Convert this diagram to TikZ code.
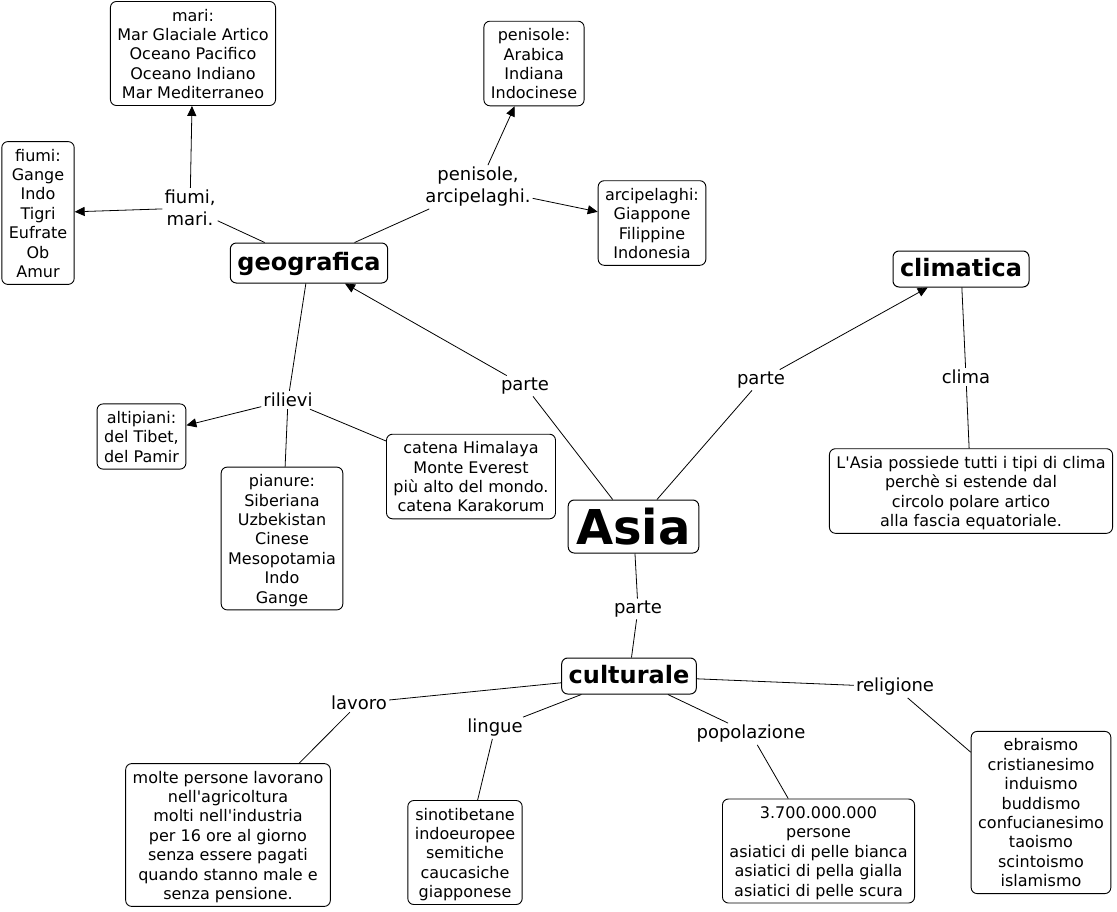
\documentclass[tikz,border=0pt]{standalone}
\usepackage{fontspec}
\setmainfont{DejaVu Sans}[Ligatures=TeXOff]
\usetikzlibrary{arrows.meta}
\newcommand\lines[1]{{\setbox\strutbox\hbox{\vrule height 16pt depth 3.4pt width 0pt}%
  \renewcommand\arraystretch{1}\begin{tabular}{@{}c@{}}#1\end{tabular}}}
\begin{document}
\begin{tikzpicture}[x=1pt,y=-1pt,
 box/.style={draw, rounded corners=6pt, line width=0.9pt, inner xsep=7pt, inner ysep=3.5pt,
   font=\fontsize{16}{19.4}\selectfont},
 title/.style={draw, rounded corners=6pt, line width=1pt, inner xsep=7pt, inner ysep=6pt,
   font=\fontsize{24}{29}\selectfont\bfseries, text height=19pt, text depth=5pt},
 bigtitle/.style={title, font=\fontsize{48}{56}\selectfont\bfseries, text height=40pt, text depth=4pt,
   inner ysep=4.5pt, inner xsep=8pt},
 lbl/.style={align=center, inner sep=2pt, font=\fontsize{18}{22}\selectfont},
 con/.style={draw, line width=0.8pt},
 arr/.style={con, -{Triangle[length=10pt,width=9pt]}},
]
\useasboundingbox (0,0) rectangle (1117,911);

% main concepts
\node[bigtitle] (asia) at (633.5,526.5) {Asia};
\node[title, minimum height=40pt] (geo) at (309,263) {geografica};
\node[title] (clim) at (961,269) {climatica};
\node[title] (cult) at (629,676) {culturale};

% boxes
\node[box] (mari) at (193,53.5) {\lines{mari:\\Mar Glaciale Artico\\Oceano Pacifico\\Oceano Indiano\\Mar Mediterraneo}};
\node[box] (fiumi) at (38,213) {\lines{fiumi:\\Gange\\Indo\\Tigri\\Eufrate\\Ob\\Amur}};
\node[box] (pen) at (534,63.5) {\lines{penisole:\\Arabica\\Indiana\\Indocinese}};
\node[box] (arc) at (652,223) {\lines{arcipelaghi:\\Giappone\\Filippine\\Indonesia}};
\node[box] (alt) at (141.5,436.5) {\lines{altipiani:\\del Tibet,\\del Pamir}};
\node[box] (pian) at (282,538.5) {\lines{pianure:\\Siberiana\\Uzbekistan\\Cinese\\Mesopotamia\\Indo\\Gange}};
\node[box] (cat) at (471,476.5) {\lines{catena Himalaya\\Monte Everest\\più alto del mondo.\\catena Karakorum}};
\node[box] (clm) at (971,491) {\lines{L'Asia possiede tutti i tipi di clima\\perchè si estende dal\\circolo polare artico\\alla fascia equatoriale.}};
\node[box] (lav) at (228,835) {\lines{molte persone lavorano\\nell'agricoltura\\molti nell'industria\\per 16 ore al giorno\\senza essere pagati\\quando stanno male e\\senza pensione.}};
\node[box] (ling) at (465,852.5) {\lines{sinotibetane\\indoeuropee\\semitiche\\caucasiche\\giapponese}};
\node[box] (pop) at (818.5,851) {\lines{3.700.000.000\\persone\\asiatici di pelle bianca\\asiatici di pella gialla\\asiatici di pelle scura}};
\node[box] (rel) at (1041,812.5) {\lines{ebraismo\\cristianesimo\\induismo\\buddismo\\confucianesimo\\taoismo\\scintoismo\\islamismo}};

% link labels
\node[lbl] (lfm) at (190,208) {fiumi,\\mari.};
\node[lbl] (lpa) at (478,187) {penisole,\\arcipelaghi.};
\node[lbl] (lp1) at (525,386) {parte};
\node[lbl] (lp2) at (761,380) {parte};
\node[lbl] (lcl) at (966,377) {clima};
\node[lbl] (lri) at (288,400) {rilievi};
\node[lbl] (lp3) at (638,609) {parte};
\node[lbl] (llav) at (359,703) {lavoro};
\node[lbl] (lling) at (495,728) {lingue};
\node[lbl] (lpop) at (751,734) {popolazione};
\node[lbl] (lrel) at (895,687) {religione};

% connectors
\draw[con] (asia) -- (lp1); \draw[arr] (lp1) -- (geo);
\draw[con] (asia) -- (lp2); \draw[arr] (lp2) -- (clim);
\draw[con] (asia) -- (lp3); \draw[con] (lp3) -- (cult);
\draw[con] (clim) -- (lcl); \draw[con] (lcl) -- (clm);
\draw[con] (geo) -- (lfm); \draw[arr] (lfm) -- (mari); \draw[arr] (lfm) -- (fiumi);
\draw[con] (geo) -- (lpa); \draw[arr] (lpa) -- (pen); \draw[arr] (lpa) -- (arc);
\draw[con] (geo) -- (lri); \draw[arr] (lri) -- (alt); \draw[con] (lri) -- (pian); \draw[con] (lri) -- (cat);
\draw[con] (cult) -- (llav); \draw[con] (llav) -- (lav);
\draw[con] (cult) -- (lling); \draw[con] (lling) -- (ling);
\draw[con] (cult) -- (lpop); \draw[con] (lpop) -- (pop);
\draw[con] (cult) -- (lrel); \draw[con] (lrel) -- (rel);
\end{tikzpicture}
\end{document}
